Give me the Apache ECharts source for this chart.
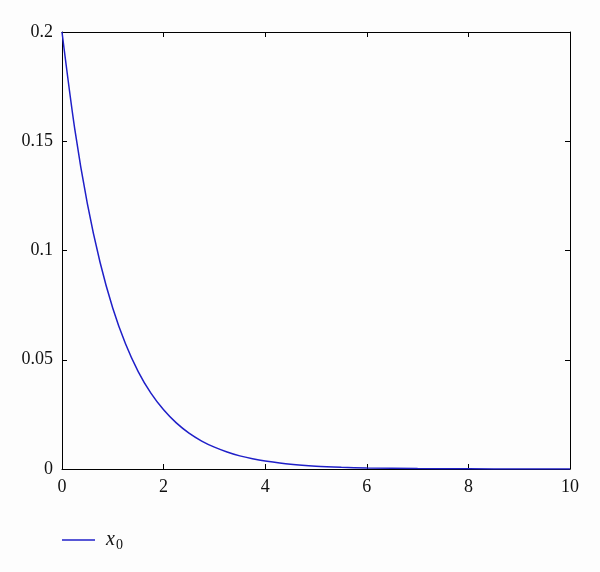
<!DOCTYPE html>
<html>
<head>
<meta charset="utf-8">
<script src="https://cdn.jsdelivr.net/npm/echarts@6/dist/echarts.min.js"></script>
<style>html,body{margin:0;padding:0;background:#fdfdfd;}#c{width:600px;height:572px;}</style>
</head>
<body>
<div id="c"></div>
<script>
var xValues = [0, 0.25, 0.5, 0.75, 1, 1.25, 1.5, 1.75, 2, 2.25, 2.5, 2.75, 3, 3.25, 3.5, 3.75, 4, 4.5, 5, 5.5, 6, 7, 8, 9, 10];
var x0Values = [0.2, 0.1558, 0.1213, 0.0945, 0.0736, 0.0573, 0.0446, 0.0347, 0.0271, 0.0211, 0.0164, 0.0128, 0.0100, 0.0078, 0.0060, 0.0047, 0.0037, 0.0022, 0.0013, 0.0008, 0.0005, 0.0002, 0.0001, 0.00002, 0.00001];
var xTicks = [0, 2, 4, 6, 8, 10];
var yTicks = [0, 0.05, 0.1, 0.15, 0.2];
var seriesName = 'x0';

var chart = echarts.init(document.getElementById('c'));
var serif = '"Liberation Serif", "DejaVu Serif", serif';
var lineColor = '#1f1fc8';
var axisCommon = {
  axisLine: {show: true, onZero: false, lineStyle: {color: '#000', width: 1}},
  axisTick: {show: true, inside: true, length: 5, lineStyle: {color: '#000', width: 1}},
  splitLine: {show: false}
};
var data = xValues.map(function (x, i) { return [x, x0Values[i]]; });
chart.setOption({
  backgroundColor: '#fdfdfd',
  animation: false,
  grid: {left: 62, right: 30, top: 32, bottom: 103},
  legend: {
    show: true,
    left: 62, top: 530,
    padding: 0,
    icon: 'rect',
    itemWidth: 33, itemHeight: 1.5, itemGap: 10,
    data: [seriesName],
    formatter: function () { return '{i|x}{s|0}'; },
    textStyle: {
      color: '#111',
      rich: {
        i: {fontFamily: serif, fontStyle: 'italic', fontSize: 20, color: '#111', padding: [0, 0, 0, 6]},
        s: {fontFamily: serif, fontSize: 14, color: '#111', padding: [10, 0, 0, 1]}
      }
    }
  },
  xAxis: [
    Object.assign({}, axisCommon, {type: 'value', position: 'bottom', min: xTicks[0], max: xTicks[xTicks.length - 1], interval: 2,
      axisLabel: {color: '#111', fontFamily: serif, fontSize: 18, margin: 9}}),
    Object.assign({}, axisCommon, {type: 'value', position: 'top', min: xTicks[0], max: xTicks[xTicks.length - 1], interval: 2,
      axisLabel: {show: false}})
  ],
  yAxis: [
    Object.assign({}, axisCommon, {type: 'value', position: 'left', min: yTicks[0], max: yTicks[yTicks.length - 1], interval: 0.05,
      axisLabel: {color: '#111', fontFamily: serif, fontSize: 18, margin: 9}}),
    Object.assign({}, axisCommon, {type: 'value', position: 'right', min: yTicks[0], max: yTicks[yTicks.length - 1], interval: 0.05,
      axisLabel: {show: false}})
  ],
  series: [{
    name: seriesName,
    type: 'line',
    data: data,
    xAxisIndex: 0, yAxisIndex: 0,
    showSymbol: false,
    smooth: 0.3,
    color: lineColor,
    lineStyle: {color: lineColor, width: 1.5},
    itemStyle: {color: lineColor}
  }]
});
</script>
</body>
</html>
